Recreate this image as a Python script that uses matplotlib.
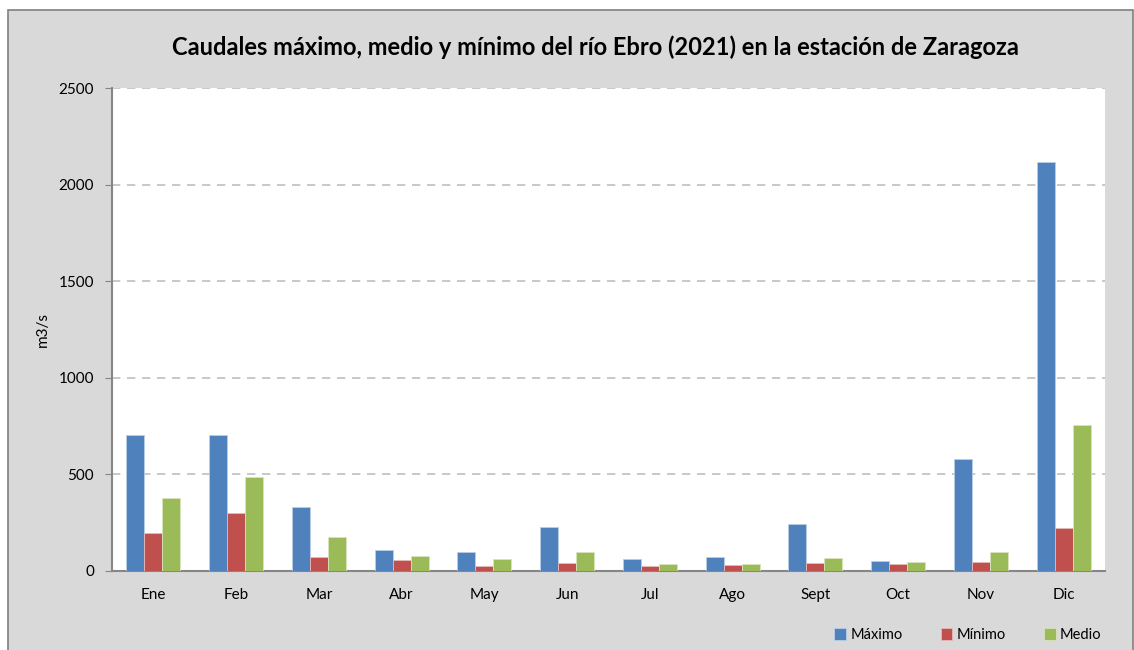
import matplotlib.pyplot as plt
import matplotlib.patches as mpatches
import numpy as np

# Datos (m3/s)
meses = ["Ene", "Feb", "Mar", "Abr", "May", "Jun", "Jul", "Ago", "Sept", "Oct", "Nov", "Dic"]
maximo = [704, 702, 333, 109, 98, 226, 64, 74, 242, 54, 578, 2115]
minimo = [198, 299, 72, 55, 28, 42, 28, 33, 40, 35, 45, 221]
medio = [376, 485, 176, 78, 60, 100, 37, 37, 67, 45, 98, 757]

azul = "#4F81BD"
rojo = "#C0504D"
verde = "#9BBB59"
fondo = "#D9D9D9"

plt.rcParams['font.family'] = ['Lato', 'DejaVu Sans']

fig = plt.figure(figsize=(11.34, 6.5), dpi=100)
fig.patch.set_facecolor("white")

# recuadro gris del area del grafico (el borde inferior queda fuera de la imagen)
marco = mpatches.Rectangle((8 / 1134, -0.02), 1 - 8 / 1134 - 1.5 / 1134, 1.02 - 10 / 650,
                           transform=fig.transFigure, facecolor=fondo,
                           edgecolor="#7F7F7F", linewidth=1.2, zorder=-10)
fig.patches.append(marco)

ax = fig.add_axes([112 / 1134, 1 - 571 / 650, 993 / 1134, (571 - 88) / 650])
ax.set_facecolor("white")

x = np.arange(len(meses))
ancho = 0.218
ax.bar(x - ancho, maximo, ancho, color=azul, edgecolor="#B9CDE5", linewidth=0.6, label="Máximo", zorder=3)
ax.bar(x, minimo, ancho, color=rojo, edgecolor="#E6B9B8", linewidth=0.6, label="Mínimo", zorder=3)
ax.bar(x + ancho, medio, ancho, color=verde, edgecolor="#D7E4BD", linewidth=0.6, label="Medio", zorder=3)

ax.set_xlim(-0.5, len(meses) - 0.5)
ax.set_ylim(0, 2500)
ax.set_yticks(range(0, 2501, 500))
ax.set_xticks(x)
ax.set_xticklabels(meses, fontsize=11)
ax.tick_params(axis="x", length=0, pad=12)
ax.tick_params(axis="y", length=5, color="#868686", labelsize=11, pad=8)

ax.yaxis.grid(True, linestyle=(0, (5, 4)), color="#BFBFBF", linewidth=1.2, zorder=0)
for lado in ["top", "right"]:
    ax.spines[lado].set_visible(False)
for lado in ["left", "bottom"]:
    ax.spines[lado].set_color("#868686")
    ax.spines[lado].set_linewidth(1.5)

ax.set_ylabel("m3/s", fontsize=11, labelpad=6)

fig.text(595 / 1134, 1 - 47 / 650, "Caudales máximo, medio y mínimo del río Ebro (2021) en la estación de Zaragoza",
         ha="center", va="center", fontsize=17, fontweight="bold")

leg = ax.legend(loc="center", bbox_to_anchor=(968 / 1134, 1 - 635 / 650), bbox_transform=fig.transFigure,
                ncol=3, frameon=False, fontsize=10.5, handlelength=0.8, handleheight=0.8,
                handletextpad=0.3, columnspacing=2.6)

plt.savefig("out.png", dpi=100, facecolor=fig.get_facecolor())
plt.close()
